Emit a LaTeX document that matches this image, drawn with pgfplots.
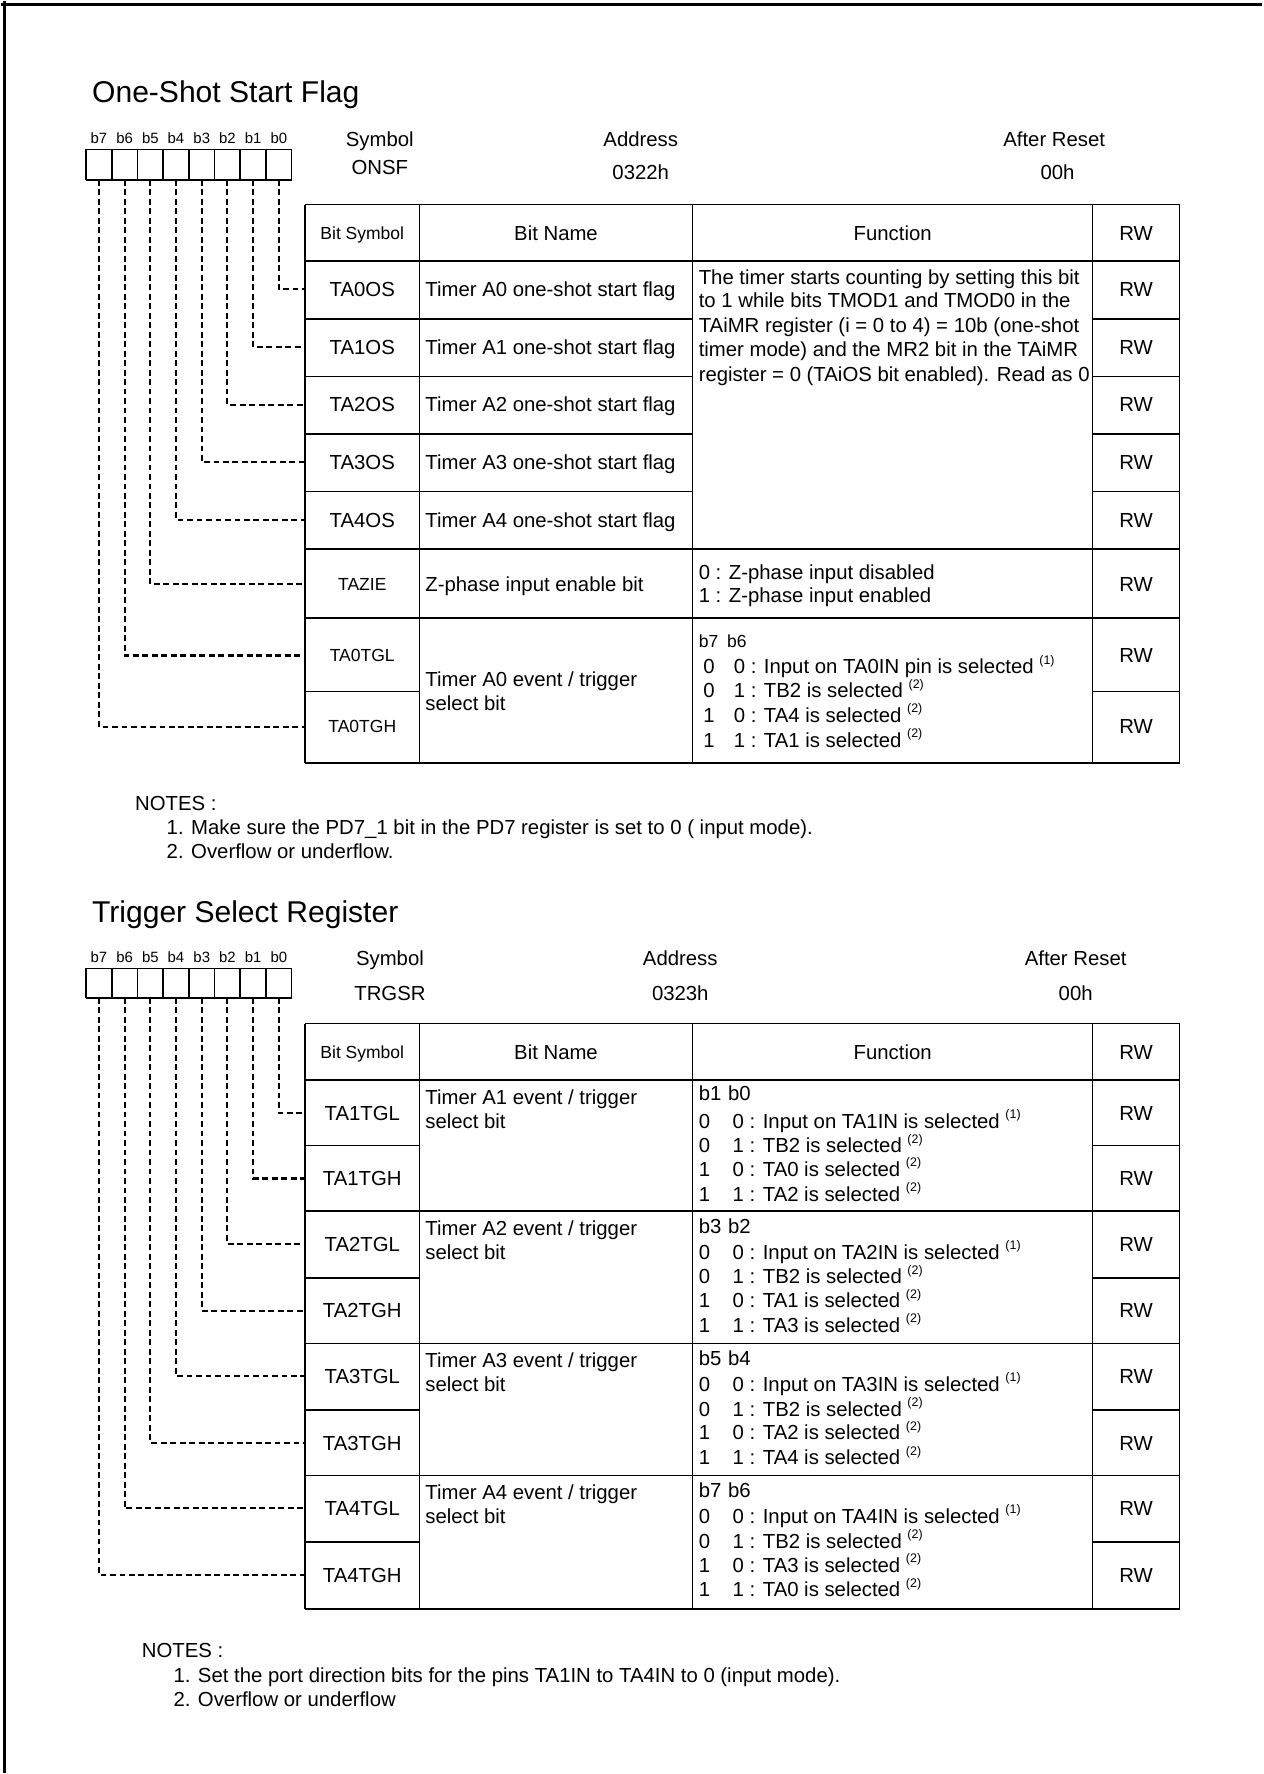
\documentclass[border=0pt]{standalone}
\usepackage{fontspec}
\setmainfont{Liberation Sans}
\usepackage{pgfplots}
\pgfplotsset{compat=1.18}
\newcommand\N{\fontsize{9}{10.75}\selectfont}
\newcommand\Sm{\fontsize{7.75}{9}\selectfont}
\newcommand\Ti{\fontsize{13.3}{15}\selectfont}
\newcommand\Bt{\fontsize{6.6}{7.5}\selectfont}
\newcommand\sps[1]{\ \raisebox{0.9ex}{\fontsize{5.5}{6}\selectfont(#1)}}
% text: x, centre y, text
\newcommand\TLN[3]{\node[anchor=base west,inner sep=0pt,font=\N,yshift=-3.2pt] at (axis cs:#1,#2) {#3};}
\newcommand\TCN[3]{\node[anchor=base,inner sep=0pt,font=\N,yshift=-3.2pt] at (axis cs:#1,#2) {#3};}
\newcommand\TLS[3]{\node[anchor=base west,inner sep=0pt,font=\Sm,yshift=-2.8pt] at (axis cs:#1,#2) {#3};}
\newcommand\TCS[3]{\node[anchor=base,inner sep=0pt,font=\Sm,yshift=-2.8pt] at (axis cs:#1,#2) {#3};}
\newcommand\TCB[3]{\node[anchor=base,inner sep=0pt,font=\Bt,yshift=-2.4pt] at (axis cs:#1,#2) {#3};}
\newcommand\TTi[3]{\node[anchor=base west,inner sep=0pt,font=\Ti,yshift=-4.8pt] at (axis cs:#1,#2) {#3};}
% lines
\newcommand\HL[3]{\addplot[tl] coordinates {(#1,#3) (#2,#3)};}
\newcommand\VL[3]{\addplot[tl] coordinates {(#1,#2) (#1,#3)};}
\newcommand\DL[3]{\addplot[dl] coordinates {(#1,#2) (#1,#3) (269,#3)};}
\begin{document}
\begin{tikzpicture}
\begin{axis}[
  x=0.5pt, y=0.5pt, y dir=reverse,
  xmin=0, xmax=1116, ymin=0, ymax=1568,
  hide axis, clip=false, scale only axis,
  tl/.style={black, line width=0.7pt},
  dl/.style={black, line width=0.95pt, dash pattern=on 2.6pt off 1.6pt},
  bl/.style={black, line width=1.2pt},
]
% page border (top and left)
\addplot[bl] coordinates {(0,2.5) (1116,2.5)};
\addplot[bl] coordinates {(2.5,0) (2.5,1568)};
\addplot[draw=none] coordinates {(0,0) (1116,1568)};

% ================= Section 1 =================
\TTi{80}{80}{One-Shot Start Flag}
% bit box
\HL{75}{257}{131}\HL{75}{257}{158}
\foreach \k in {0,...,8}{\pgfmathsetmacro\xx{75+22.75*\k}\edef\tmp{\noexpand\VL{\xx}{131}{158}}\tmp}
\TCB{86.4}{121}{b7}\TCB{109.1}{121}{b6}\TCB{131.9}{121}{b5}\TCB{154.6}{121}{b4}
\TCB{177.4}{121}{b3}\TCB{200.1}{121}{b2}\TCB{222.9}{121}{b1}\TCB{245.6}{121}{b0}
\TCN{335}{122}{Symbol}\TCN{335}{147}{ONSF}
\TCN{566}{122}{Address}\TCN{566}{151}{0322h}
\TCN{932}{122}{After Reset}\TCN{935}{151}{00h}
% dashed connectors
\DL{245.6}{158}{255}\DL{222.9}{158}{306}\DL{200.1}{158}{357}\DL{177.4}{158}{408}
\DL{154.6}{158}{459}\DL{131.9}{158}{516}\DL{109.1}{158}{579}\DL{86.4}{158}{642}
% table grid
\VL{269}{180}{674}\VL{370}{180}{674}\VL{612}{180}{674}\VL{966}{180}{674}\VL{1043}{180}{674}
\HL{269}{1043}{180}\HL{269}{1043}{230}
\HL{269}{612}{281}\HL{966}{1043}{281}
\HL{269}{612}{332}\HL{966}{1043}{332}
\HL{269}{612}{383}\HL{966}{1043}{383}
\HL{269}{612}{434}\HL{966}{1043}{434}
\HL{269}{1043}{485}\HL{269}{1043}{546}
\HL{269}{370}{611}\HL{966}{1043}{611}
\HL{269}{1043}{674}
% header
\TCS{319.5}{205}{Bit Symbol}\TCN{491}{205}{Bit Name}\TCN{789}{205}{Function}\TCN{1004.5}{205}{RW}
% rows
\TCN{319.5}{255}{TA0OS}\TLN{375}{255}{Timer A0 one-shot start flag}\TCN{1004.5}{255}{RW}
\TCN{319.5}{306}{TA1OS}\TLN{375}{306}{Timer A1 one-shot start flag}\TCN{1004.5}{306}{RW}
\TCN{319.5}{357}{TA2OS}\TLN{375}{357}{Timer A2 one-shot start flag}\TCN{1004.5}{357}{RW}
\TCN{319.5}{408}{TA3OS}\TLN{375}{408}{Timer A3 one-shot start flag}\TCN{1004.5}{408}{RW}
\TCN{319.5}{459}{TA4OS}\TLN{375}{459}{Timer A4 one-shot start flag}\TCN{1004.5}{459}{RW}
\TLN{617}{244}{The timer starts counting by setting this bit}
\TLN{617}{265}{to 1 while bits TMOD1 and TMOD0 in the}
\TLN{617}{287}{TAiMR register (i = 0 to 4) = 10b (one-shot}
\TLN{617}{308}{timer mode) and the MR2 bit in the TAiMR}
\TLN{617}{330}{register = 0 (TAiOS bit enabled). Read as 0}
\TCS{319.5}{516}{TAZIE}\TLN{375}{516}{Z-phase input enable bit}\TCN{1004.5}{516}{RW}
\TLN{617}{505}{0 : Z-phase input disabled}
\TLN{617}{526}{1 : Z-phase input enabled}
\TCS{319.5}{579}{TA0TGL}\TCS{319.5}{642}{TA0TGH}
\TCN{1004.5}{579}{RW}\TCN{1004.5}{642}{RW}
\TLN{375}{600}{Timer A0 event / trigger}
\TLN{375}{621}{select bit}
\TLS{617}{566}{b7}\TLS{642}{566}{b6}
\TLN{621}{589}{0}\TLN{648}{589}{0 : Input on TA0IN pin is selected\sps{1}}
\TLN{621}{610}{0}\TLN{648}{610}{1 : TB2 is selected\sps{2}}
\TLN{621}{632}{1}\TLN{648}{632}{0 : TA4 is selected\sps{2}}
\TLN{621}{654}{1}\TLN{648}{654}{1 : TA1 is selected\sps{2}}
% notes
\TLN{118}{710}{NOTES :}
\TLN{146}{731}{1. Make sure the PD7\_1 bit in the PD7 register is set to 0 ( input mode).}
\TLN{146}{752}{2. Overflow or underflow.}

% ================= Section 2 =================
\TTi{80}{806}{Trigger Select Register}
\HL{75}{257}{856}\HL{75}{257}{882}
\foreach \k in {0,...,8}{\pgfmathsetmacro\xx{75+22.75*\k}\edef\tmp{\noexpand\VL{\xx}{856}{882}}\tmp}
\TCB{86.4}{846}{b7}\TCB{109.1}{846}{b6}\TCB{131.9}{846}{b5}\TCB{154.6}{846}{b4}
\TCB{177.4}{846}{b3}\TCB{200.1}{846}{b2}\TCB{222.9}{846}{b1}\TCB{245.6}{846}{b0}
\TCN{344}{847}{Symbol}\TCN{344}{878}{TRGSR}
\TCN{601}{847}{Address}\TCN{601}{878}{0323h}
\TCN{951}{847}{After Reset}\TCN{951}{878}{00h}
\DL{245.6}{882}{984}\DL{222.9}{882}{1042}\DL{200.1}{882}{1100}\DL{177.4}{882}{1159}
\DL{154.6}{882}{1217}\DL{131.9}{882}{1276}\DL{109.1}{882}{1334}\DL{86.4}{882}{1393}
\VL{269}{905}{1423}\VL{370}{905}{1423}\VL{612}{905}{1423}\VL{966}{905}{1423}\VL{1043}{905}{1423}
\HL{269}{1043}{905}\HL{269}{1043}{955}
\HL{269}{370}{1013}\HL{966}{1043}{1013}
\HL{269}{1043}{1071}
\HL{269}{370}{1130}\HL{966}{1043}{1130}
\HL{269}{1043}{1188}
\HL{269}{370}{1247}\HL{966}{1043}{1247}
\HL{269}{1043}{1305}
\HL{269}{370}{1364}\HL{966}{1043}{1364}
\HL{269}{1043}{1423}
\TCS{319.5}{930}{Bit Symbol}\TCN{491}{930}{Bit Name}\TCN{789}{930}{Function}\TCN{1004.5}{930}{RW}
% pair 1
\TCN{319.5}{984}{TA1TGL}\TCN{319.5}{1042}{TA1TGH}\TCN{1004.5}{984}{RW}\TCN{1004.5}{1042}{RW}
\TLN{375}{970}{Timer A1 event / trigger}\TLN{375}{991}{select bit}
\TLN{617}{967}{b1}\TLN{643}{967}{b0}
\TLN{617}{991}{0}\TLN{647}{991}{0 : Input on TA1IN is selected\sps{1}}
\TLN{617}{1013}{0}\TLN{647}{1013}{1 : TB2 is selected\sps{2}}
\TLN{617}{1034}{1}\TLN{647}{1034}{0 : TA0 is selected\sps{2}}
\TLN{617}{1056}{1}\TLN{647}{1056}{1 : TA2 is selected\sps{2}}
% pair 2
\TCN{319.5}{1100}{TA2TGL}\TCN{319.5}{1159}{TA2TGH}\TCN{1004.5}{1100}{RW}\TCN{1004.5}{1159}{RW}
\TLN{375}{1086}{Timer A2 event / trigger}\TLN{375}{1107}{select bit}
\TLN{617}{1084}{b3}\TLN{643}{1084}{b2}
\TLN{617}{1107}{0}\TLN{647}{1107}{0 : Input on TA2IN is selected\sps{1}}
\TLN{617}{1129}{0}\TLN{647}{1129}{1 : TB2 is selected\sps{2}}
\TLN{617}{1150}{1}\TLN{647}{1150}{0 : TA1 is selected\sps{2}}
\TLN{617}{1172}{1}\TLN{647}{1172}{1 : TA3 is selected\sps{2}}
% pair 3
\TCN{319.5}{1217}{TA3TGL}\TCN{319.5}{1276}{TA3TGH}\TCN{1004.5}{1217}{RW}\TCN{1004.5}{1276}{RW}
\TLN{375}{1203}{Timer A3 event / trigger}\TLN{375}{1224}{select bit}
\TLN{617}{1201}{b5}\TLN{643}{1201}{b4}
\TLN{617}{1224}{0}\TLN{647}{1224}{0 : Input on TA3IN is selected\sps{1}}
\TLN{617}{1246}{0}\TLN{647}{1246}{1 : TB2 is selected\sps{2}}
\TLN{617}{1267}{1}\TLN{647}{1267}{0 : TA2 is selected\sps{2}}
\TLN{617}{1289}{1}\TLN{647}{1289}{1 : TA4 is selected\sps{2}}
% pair 4
\TCN{319.5}{1334}{TA4TGL}\TCN{319.5}{1393}{TA4TGH}\TCN{1004.5}{1334}{RW}\TCN{1004.5}{1393}{RW}
\TLN{375}{1320}{Timer A4 event / trigger}\TLN{375}{1341}{select bit}
\TLN{617}{1318}{b7}\TLN{643}{1318}{b6}
\TLN{617}{1341}{0}\TLN{647}{1341}{0 : Input on TA4IN is selected\sps{1}}
\TLN{617}{1363}{0}\TLN{647}{1363}{1 : TB2 is selected\sps{2}}
\TLN{617}{1384}{1}\TLN{647}{1384}{0 : TA3 is selected\sps{2}}
\TLN{617}{1406}{1}\TLN{647}{1406}{1 : TA0 is selected\sps{2}}
% notes
\TLN{124}{1460}{NOTES :}
\TLN{152}{1482}{1. Set the port direction bits for the pins TA1IN to TA4IN to 0 (input mode).}
\TLN{152}{1503}{2. Overflow or underflow}
\end{axis}
\end{tikzpicture}
\end{document}
